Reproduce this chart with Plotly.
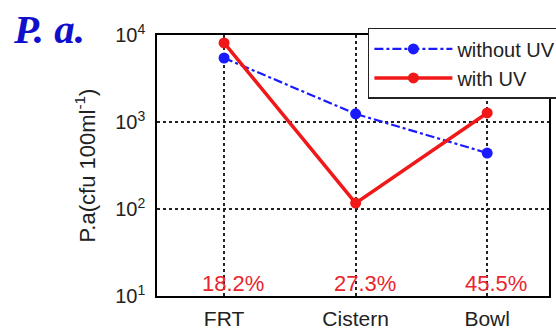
import plotly.graph_objects as go

# Sampling sites and P. aeruginosa counts (cfu per 100 ml)
sites = ["FRT", "Cistern", "Bowl"]
without_uv = [5440, 1240, 440]
with_uv = [8100, 117, 1270]
percent_labels = ["18.2%", "27.3%", "45.5%"]

# Log-axis ticks
y_tickvals = [10, 100, 1000, 10000]
y_ticktext = ["10<sup>1</sup>", "10<sup>2</sup>", "10<sup>3</sup>", "10<sup>4</sup>"]

fig = go.Figure()

fig.add_trace(go.Scatter(
    x=sites, y=without_uv, name="without UV", mode="lines+markers",
    line=dict(color="#1a1aff", width=2.2, dash="dashdot"),
    marker=dict(color="#1a1aff", size=11),
))
fig.add_trace(go.Scatter(
    x=sites, y=with_uv, name="with UV", mode="lines+markers",
    line=dict(color="#f01818", width=3.5),
    marker=dict(color="#f01818", size=11),
))

# Percentage labels along the bottom of the axes
for s, p in zip(sites, percent_labels):
    fig.add_annotation(
        x=s, y=1.14, xref="x", yref="y", text=p, showarrow=False,
        xshift=9, font=dict(family="Liberation Sans, Arial", size=22, color="#e8262e"),
    )

# Panel label
fig.add_annotation(
    x=-0.372, y=1.12, xref="paper", yref="paper", text="<b><i>P. a.</i></b>",
    showarrow=False, xanchor="left", yanchor="top",
    font=dict(family="Liberation Serif, Times New Roman", size=41, color="#1010cc"),
)

fig.update_layout(
    width=556, height=331,
    margin=dict(l=157, r=7, t=35, b=35, autoexpand=False),
    paper_bgcolor="white", plot_bgcolor="white",
    font=dict(family="Liberation Sans, Arial", size=20, color="#222222"),
    showlegend=True,
    legend=dict(
        x=0.538, y=1.027, xanchor="left", yanchor="top",
        bgcolor="white", bordercolor="#222222", borderwidth=1.5,
        font=dict(size=20, color="#222222"), itemwidth=78,
        tracegroupgap=0,
    ),
)

fig.update_xaxes(
    type="category", range=[-0.51, 2.47], automargin=False,
    showline=True, linecolor="black", linewidth=1.5, mirror=True,
    showgrid=True, gridcolor="#222222", griddash="dot", gridwidth=1.5,
    ticks="", tickfont=dict(size=21, color="#222222"), ticklabelstandoff=3,
    zeroline=False,
)
fig.update_yaxes(
    type="log", range=[1, 4], automargin=False,
    tickvals=y_tickvals, ticktext=y_ticktext,
    showline=True, linecolor="black", linewidth=1.5, mirror=True,
    showgrid=True, gridcolor="#222222", griddash="dot", gridwidth=1.5,
    ticks="", tickfont=dict(size=20, color="#222222"), ticklabelstandoff=6,
    title=dict(text="P.a(cfu 100ml<sup>-1</sup>)", font=dict(size=22, color="#222222"), standoff=14),
    zeroline=False,
)

fig.write_html("out.html")
